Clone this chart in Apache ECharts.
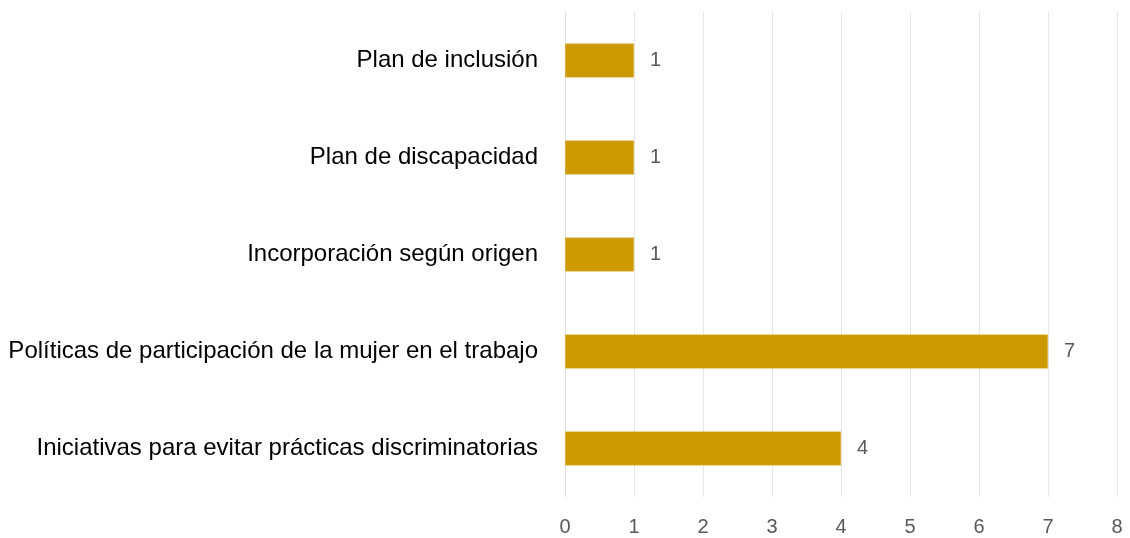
<!DOCTYPE html>
<html>
<head>
<meta charset="utf-8">
<script src="https://cdn.jsdelivr.net/npm/echarts@6/dist/echarts.min.js"></script>
<style>
html,body{margin:0;padding:0;background:#fff;}
#c{width:1130px;height:538px;}
</style>
</head>
<body>
<div id="c"></div>
<script>
const categories = [
  "Iniciativas para evitar prácticas discriminatorias",
  "Políticas de participación de la mujer en el trabajo",
  "Incorporación según origen",
  "Plan de discapacidad",
  "Plan de inclusión"
];
const values = [4, 7, 1, 1, 1];
const xTicks = [0, 1, 2, 3, 4, 5, 6, 7, 8];

const chart = echarts.init(document.getElementById('c'));
chart.setOption({
  animation: false,
  backgroundColor: '#ffffff',
  grid: {left: 565, right: 13, top: 12, bottom: 41, containLabel: false},
  xAxis: {
    type: 'value',
    min: xTicks[0],
    max: xTicks[xTicks.length - 1],
    interval: 1,
    axisLine: {show: false},
    axisTick: {show: false},
    splitLine: {show: true, lineStyle: {color: '#e6e6e6', width: 1}},
    axisLabel: {color: '#595959', fontSize: 20, fontFamily: 'Liberation Sans, Arial, sans-serif', margin: 20}
  },
  yAxis: {
    type: 'category',
    data: categories,
    axisLine: {show: true, lineStyle: {color: '#e0e0e0'}},
    axisTick: {show: false},
    axisLabel: {color: '#000000', fontSize: 24, fontFamily: 'Liberation Sans, Arial, sans-serif', margin: 27, padding: [3, 0, 0, 0]}
  },
  series: [{
    type: 'bar',
    data: values,
    barWidth: 34,
    itemStyle: {color: '#cc9900', borderColor: '#e0b84a', borderWidth: 0.5},
    label: {show: true, position: 'right', distance: 16, color: '#595959', fontSize: 20, fontFamily: 'Liberation Sans, Arial, sans-serif'}
  }]
});
</script>
</body>
</html>
